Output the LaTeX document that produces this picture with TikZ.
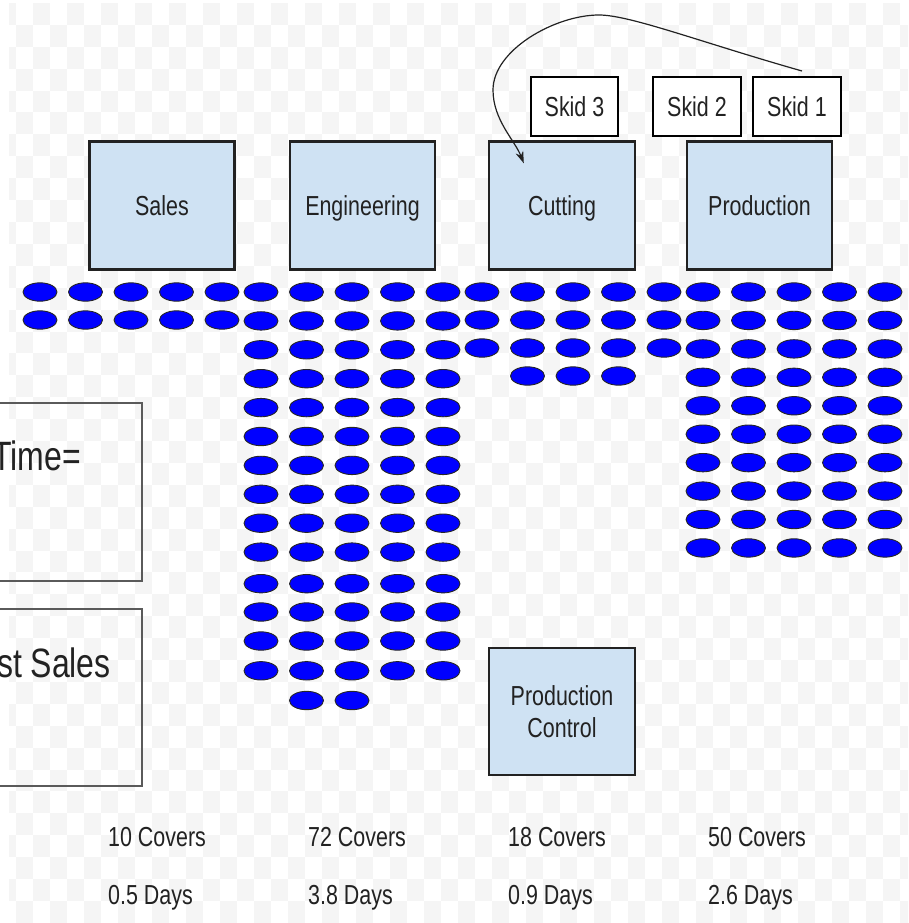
\documentclass[tikz,border=0pt]{standalone}
\usepackage{fontspec}
\setmainfont{Liberation Sans}[FakeStretch=0.78]
\usetikzlibrary{arrows.meta,calc}
\definecolor{boxblue}{HTML}{CFE2F3}
\definecolor{coverblue}{HTML}{0000FF}
\definecolor{checkgray}{RGB}{245,245,245}
\definecolor{ink}{HTML}{222222}
\definecolor{framegray}{HTML}{5A5A5A}

\begin{document}
\begin{tikzpicture}[x=1pt,y=-1pt,
  every node/.style={inner sep=0pt, text=ink},
  dept/.style={draw=ink, line width=2.4pt, fill=boxblue,
    minimum width=145pt, minimum height=128pt,
    font=\fontsize{27.5}{32}\selectfont},
  onelinetext/.style={text height=19.7pt, text depth=0pt},
  skid/.style={draw=black, line width=2pt, fill=white,
    minimum width=88pt, minimum height=59pt,
    font=\fontsize{27.5}{32}\selectfont, text height=19.7pt, text depth=0pt},
  frame/.style={draw=framegray, line width=1.8pt},
  bigtext/.style={font=\fontsize{41}{48}\selectfont},
  note/.style={font=\fontsize{27.5}{32}\selectfont},
  cover/.style={draw=black!85, line width=0.9pt, fill=coverblue},
  flow/.style={draw=ink, line width=1.2pt, -{Stealth[length=12pt,width=8pt]}}
]
\useasboundingbox (0,0) rectangle (908,923);
\begin{scope}
\clip (0,0) rectangle (908,923);

% faint checkered backdrop
\begin{scope}
  \clip (9,3) rectangle (908,923);
  \foreach \r in {0,...,41}{
    \pgfmathtruncatemacro{\cstart}{mod(\r,2)==0 ? -1 : 0}
    \pgfmathtruncatemacro{\cnext}{\cstart+2}
    \foreach \c in {\cstart,\cnext,...,53}{
      \fill[checkgray] ({16+17*\c},{3+21.9*\r}) rectangle ++(17,21.9);
    }
  }
\end{scope}

% departments
\node[dept, onelinetext] (sales) at (162,205.5) {Sales};
\node[dept, onelinetext] (eng)   at (362.5,205.5) {Engineering};
\node[dept, onelinetext, minimum width=146pt] (cut) at (562,205.5) {Cutting};
\node[dept, onelinetext] (prod)  at (759.5,205.5) {Production};
\node[dept, align=center, minimum width=146pt, minimum height=127pt] (pc) at (562,711.5) {Production\\Control};

% skids waiting at cutting and production
\node[skid, minimum width=87pt] (s3) at (574.5,106.5) {Skid 3};
\node[skid] (s2) at (697,106.5) {Skid 2};
\node[skid] (s1) at (797,106.5) {Skid 1};

% skid 1 travels back to cutting
\coordinate (crest) at (599,15);
\coordinate (swing) at (493,90);
\draw[flow] ($(s1.north)+(5,-5)$) .. controls +(-102,-29) and +(31,0) .. (crest)
  .. controls +(-44,0) and +(0,-40) .. (swing)
  .. controls +(0,30) and +(-9,-23) .. ($(cut.north west)+(36,23)$);

% work in process: covers queued at each step
\foreach \r in {0,1}
  \foreach \c in {0,...,4}
    \draw[cover] ({40+45.5*\c},{292+28*\r}) ellipse [x radius=17pt, y radius=9.2pt];
\foreach \y in {292,320.9,349.8,378.7,407.6,436.5,465.4,494.3,523.2,552.1,583.7,612,641,670.8}
  \foreach \c in {0,...,4}
    \draw[cover] ({261+45.5*\c},\y) ellipse [x radius=17pt, y radius=9.2pt];
\foreach \c in {1,2}
  \draw[cover] ({261+45.5*\c},700.5) ellipse [x radius=17pt, y radius=9.2pt];
\foreach \r in {0,1,2}
  \foreach \c in {0,...,4}
    \draw[cover] ({482+45.5*\c},{292+28*\r}) ellipse [x radius=17pt, y radius=9.2pt];
\foreach \c in {1,2,3}
  \draw[cover] ({482+45.5*\c},376) ellipse [x radius=17pt, y radius=9.2pt];
\foreach \r in {0,...,9}
  \foreach \c in {0,...,4}
    \draw[cover] ({703+45.5*\c},{292+28.44*\r}) ellipse [x radius=17pt, y radius=9.2pt];

% side panels
\node[frame, minimum width=250pt, minimum height=178pt, anchor=north east] (leadframe) at (143.1,401.9) {};
\node[bigtext, anchor=base east] (leadtext) at (81,470) {Time=};
\node[frame, minimum width=250pt, minimum height=177pt, anchor=north east] (lostframe) at (143.1,607.9) {};
\node[bigtext, anchor=base east] (losttext) at (111,677) {st Sales};

% totals per step
\node[note, anchor=base west] (n1) at (108,846.5) {10 Covers};
\node[note, anchor=base west] (d1) at (108,904) {0.5 Days};
\node[note, anchor=base west] (n2) at (308,846.5) {72 Covers};
\node[note, anchor=base west] (d2) at (308,904) {3.8 Days};
\node[note, anchor=base west] (n3) at (508,846.5) {18 Covers};
\node[note, anchor=base west] (d3) at (508,904) {0.9 Days};
\node[note, anchor=base west] (n4) at (708,846.5) {50 Covers};
\node[note, anchor=base west] (d4) at (708,904) {2.6 Days};
\end{scope}
\end{tikzpicture}
\end{document}
